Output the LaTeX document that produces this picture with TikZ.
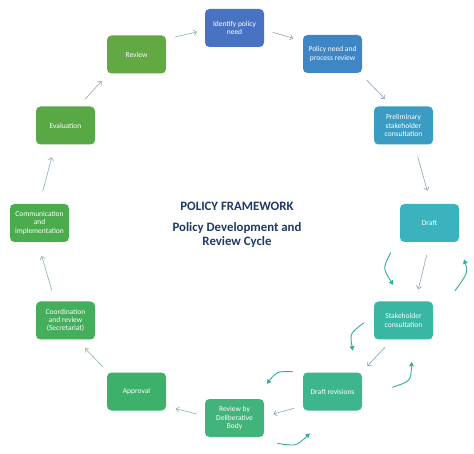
\documentclass[tikz,border=0pt]{standalone}
\usepackage{fontspec}
\setmainfont{Carlito}
\usetikzlibrary{arrows.meta}
\definecolor{cA}{HTML}{4873C3}
\definecolor{cB}{HTML}{3E86C5}
\definecolor{cC}{HTML}{3B9CC3}
\definecolor{cD}{HTML}{3AB3BF}
\definecolor{cE}{HTML}{39B6A4}
\definecolor{cF}{HTML}{3DB68D}
\definecolor{cG}{HTML}{41B37B}
\definecolor{cH}{HTML}{3DB06B}
\definecolor{cI}{HTML}{45AE5C}
\definecolor{cJ}{HTML}{4BAC4E}
\definecolor{cK}{HTML}{58A846}
\definecolor{cL}{HTML}{62A843}
\definecolor{arrB}{HTML}{88A3B6}
\definecolor{arrG}{HTML}{8DB39C}
\definecolor{curv}{HTML}{32AE9E}
\definecolor{navy}{HTML}{1F3A68}
\begin{document}
\begin{tikzpicture}[x=1pt,y=-1pt,
  box/.style={fill=#1, rounded corners=4.5pt, minimum width=59pt, minimum height=38pt,
    inner sep=1pt, align=center, text=white, font=\fontsize{7.5}{8.3}\selectfont},
  arr/.style={draw=#1, line width=0.6pt, -{Straight Barb[length=3pt,width=5.5pt]}},
  cur/.style={draw=curv, line width=0.9pt, -{Triangle[length=4.5pt,width=4.5pt]}},
  ttl/.style={text=navy, align=center, font=\bfseries\fontsize{12.8}{13.6}\selectfont}
]
\useasboundingbox[fill=white] (0,0) rectangle (474,454);

\node[box=cA] (identify) at (234.5,28)    {Identify policy\\need};
\node[box=cB] (policy)   at (332.5,54)    {Policy need and\\process review};
\node[box=cC] (prelim)   at (403.5,125.5) {Preliminary\\stakeholder\\consultation};
\node[box=cD] (draft)    at (429.5,223)   {Draft};
\node[box=cE] (stake)    at (403.5,320.5) {Stakeholder\\consultation};
\node[box=cF] (drev)     at (332.5,391.5) {Draft revisions};
\node[box=cG] (rbody)    at (234.5,418)   {Review by\\Deliberative\\Body};
\node[box=cH] (approval) at (136.5,391.5) {Approval};
\node[box=cI] (coord)    at (65.5,320.5)  {Coordination\\and review\\(Secretariat)};
\node[box=cJ] (comm)     at (39.5,223)    {Communication\\and\\implementation};
\node[box=cK] (eval)     at (65.5,125.5)  {Evaluation};
\node[box=cL] (review)   at (136.5,54.5)  {Review};

\node[ttl] (title1) at (237,206.7) {POLICY FRAMEWORK};
\node[ttl] (title2) at (237,235) {Policy Development and\\Review Cycle};

% straight arrows
\draw[arr=arrG] ([shift={(38.5,-17.5)}]review.center) -- ([shift={(-37.5,4)}]identify.center);
\draw[arr=arrB] ([shift={(38.2,4.3)}]identify.center) -- ([shift={(-39.2,-15.7)}]policy.center);
\draw[arr=arrB] ([shift={(34.2,26)}]policy.center) -- ([shift={(-18.5,-26.5)}]prelim.center);
\draw[arr=arrB] ([shift={(14.2,31.2)}]prelim.center) -- ([shift={(-2.2,-32.3)}]draft.center);
\draw[arr=arrB] ([shift={(-2.8,32)}]draft.center) -- ([shift={(14.8,-31.2)}]stake.center);
\draw[arr=arrB] ([shift={(-18.5,26.8)}]stake.center) -- ([shift={(34.8,-25.5)}]drev.center);
\draw[arr=arrB] ([shift={(-38.5,16.8)}]drev.center) -- ([shift={(38.8,-4)}]rbody.center);
\draw[arr=arrG] ([shift={(-37.8,-4)}]rbody.center) -- ([shift={(39.2,17.2)}]approval.center);
\draw[arr=arrG] ([shift={(-33.8,-24.8)}]approval.center) -- ([shift={(19.5,27.8)}]coord.center);
\draw[arr=arrG] ([shift={(-13.8,-30.5)}]coord.center) -- ([shift={(2.2,33)}]comm.center);
\draw[arr=arrG] ([shift={(3.2,-31.3)}]comm.center) -- ([shift={(-13.8,31.8)}]eval.center);
\draw[arr=arrG] ([shift={(19.5,-26.2)}]eval.center) -- ([shift={(-34.8,26.5)}]review.center);

% curved feedback arrows
\draw[cur] ([shift={(-38.8,29.7)}]draft.center) .. controls +(-8,15.5) and +(-10.6,-16.8) .. ([shift={(-10.2,-35.5)}]stake.center);
\draw[cur] ([shift={(51.5,-29.8)}]stake.center) .. controls +(13.2,-18.4) and +(4.2,13) .. ([shift={(34.5,36.3)}]draft.center);
\draw[cur] ([shift={(-39.5,2.2)}]stake.center) .. controls +(-14.1,10.6) and +(-2.8,-17.4) .. ([shift={(20.2,-40.8)}]drev.center);
\draw[cur] ([shift={(59.8,-4.2)}]drev.center) .. controls +(18.5,-6.1) and +(-0.9,19.5) .. ([shift={(8.2,41.2)}]stake.center);
\draw[cur] ([shift={(-39.8,-19.8)}]drev.center) .. controls +(-16.1,-0.35) and +(9.9,-12.65) .. ([shift={(32.2,-34)}]rbody.center);
\draw[cur] ([shift={(42.8,25.3)}]rbody.center) .. controls +(18.8,3) and +(-13.9,13) .. ([shift={(-22.5,41.8)}]drev.center);
\end{tikzpicture}
\end{document}
